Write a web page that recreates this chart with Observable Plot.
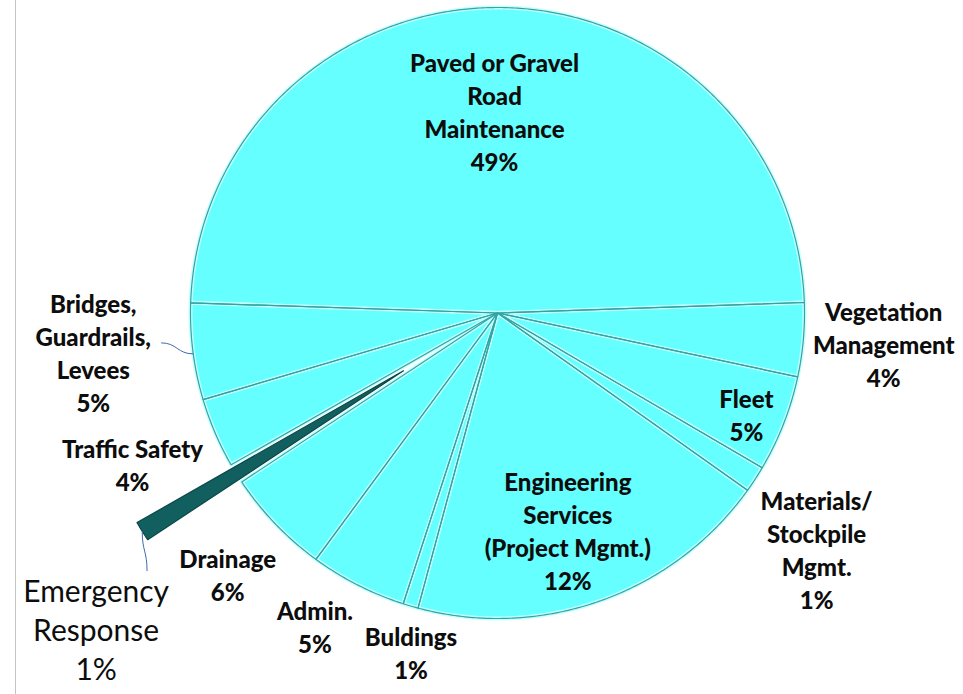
<!DOCTYPE html>
<html><head><meta charset="utf-8">
<script src="https://cdn.jsdelivr.net/npm/d3@7"></script>
<script src="https://cdn.jsdelivr.net/npm/@observablehq/plot@0.6"></script>
<style>
body{margin:0;background:#fff;}
#wrap{position:relative;width:963px;height:694px;}
#edge{position:absolute;left:15px;top:0;width:1px;height:694px;background:#c4c4c4;}
</style></head><body>
<div id="wrap"><div id="edge"></div></div>
<script>
// ---- data ----
const categories = ["Paved or Gravel Road Maintenance","Vegetation Management","Fleet","Materials/ Stockpile Mgmt.","Engineering Services (Project Mgmt.)","Buldings","Admin.","Drainage","Emergency Response","Traffic Safety","Bridges, Guardrails, Levees"];
const labelText = ["Paved or Gravel\nRoad\nMaintenance","Vegetation\nManagement","Fleet","Materials/\nStockpile\nMgmt.","Engineering\nServices\n(Project Mgmt.)","Buldings","Admin.","Drainage","Emergency\nResponse","Traffic Safety","Bridges,\nGuardrails,\nLevees"];
// slice sizes as drawn (share of the circle)
const values = [48.9, 3.9, 5.1, 1.4, 19.3, 0.8, 5.1, 5.6, 1.05, 3.7, 5.1];
// percentages printed on the chart
const percentLabels = ["49%","4%","5%","1%","12%","1%","5%","6%","1%","4%","5%"];

// ---- layout ----
const deg = Math.PI / 180;
const startDeg = -88.1;
const explode = [0,0,0,0,0,0,0,0,0.36,0,0];
const labelDelta = [-0.8,-0.55,1.0,3.7,1.85,-2.2,3.1,-0.5,-6.66,0.6,1.7];
const labelR = [0.66,1.262,0.876,1.296,0.745,1.145,1.183,1.225,1.667,1.287,1.323];

const arcs = d3.pie().sort(null).value(d => d)
  .startAngle(startDeg * deg).endAngle((startDeg + 360) * deg)(values);

const slices = [];
arcs.forEach((a, i) => {
  const mid = (a.startAngle + a.endAngle) / 2, off = explode[i];
  const ox = off * Math.sin(mid), oy = off * Math.cos(mid);
  slices.push({key: i, x: ox, y: oy});
  const n = Math.max(2, Math.ceil((a.endAngle - a.startAngle) / deg * 2));
  for (let k = 0; k <= n; k++) {
    const t = a.startAngle + (a.endAngle - a.startAngle) * k / n;
    slices.push({key: i, x: ox + Math.sin(t), y: oy + Math.cos(t)});
  }
});
const normal = slices.filter(d => explode[d.key] === 0);
const pulled = slices.filter(d => explode[d.key] !== 0);

const labels = arcs.map((a, i) => {
  const t = (a.startAngle + a.endAngle) / 2 + labelDelta[i] * deg;
  return {i, x: labelR[i] * Math.sin(t), y: labelR[i] * Math.cos(t),
          text: labelText[i] + "\n" + percentLabels[i]};
});
const big = labels.filter(d => categories[d.i] === "Emergency Response");
const small = labels.filter(d => categories[d.i] !== "Emergency Response");

const midOf = i => (arcs[i].startAngle + arcs[i].endAngle) / 2;
const P = (a, r) => [r * Math.sin(a), r * Math.cos(a)];
const iB = categories.indexOf("Bridges, Guardrails, Levees");
const iE = categories.indexOf("Emergency Response");
const leaders = [
  {a: P(264.9 * deg, 1.10), b: P(midOf(iB) - 0.4 * deg, 1.0)},
  {a: P(midOf(iE), 1 + explode[iE]), b: P(233.5 * deg, 1.42)}
];

const chart = Plot.plot({
  width: 963, height: 694, margin: 0,
  x: {domain: [-1, 1], range: [190, 804], axis: null},
  y: {domain: [-1, 1], range: [618, 7], axis: null},
  style: {fontFamily: "Lato, 'Open Sans', sans-serif", background: "transparent", overflow: "visible"},
  marks: [
    Plot.line(normal, {x: "x", y: "y", z: "key", curve: "linear-closed", fill: "#66ffff", stroke: "#c4ffff", strokeWidth: 4, strokeLinejoin: "round"}),
    Plot.line(normal, {x: "x", y: "y", z: "key", curve: "linear-closed", fill: "none", stroke: "#33a3a3", strokeWidth: 1.2}),
    Plot.line(pulled, {x: "x", y: "y", z: "key", curve: "linear-closed", fill: "#11605f", stroke: "#0b4747", strokeWidth: 1.2}),
    Plot.link(leaders.slice(0,1), {x1: d => d.a[0], y1: d => d.a[1], x2: d => d.b[0], y2: d => d.b[1], curve: "bump-x", stroke: "#4169a8", strokeWidth: 1}),
    Plot.link(leaders.slice(1), {x1: d => d.a[0], y1: d => d.a[1], x2: d => d.b[0], y2: d => d.b[1], curve: "bump-y", stroke: "#4169a8", strokeWidth: 1}),
    Plot.text(small, {x: "x", y: "y", text: "text", fontWeight: 900, fontSize: 24, lineHeight: 1.375, fill: "#0d0d0d", textAnchor: "middle", lineAnchor: "middle"}),
    Plot.text(big, {x: "x", y: "y", text: "text", fontWeight: "normal", fontSize: 30, lineHeight: 1.3, fill: "#0d0d0d", textAnchor: "middle", lineAnchor: "middle"})
  ]
});
document.getElementById("wrap").appendChild(chart);
</script>
</body></html>
